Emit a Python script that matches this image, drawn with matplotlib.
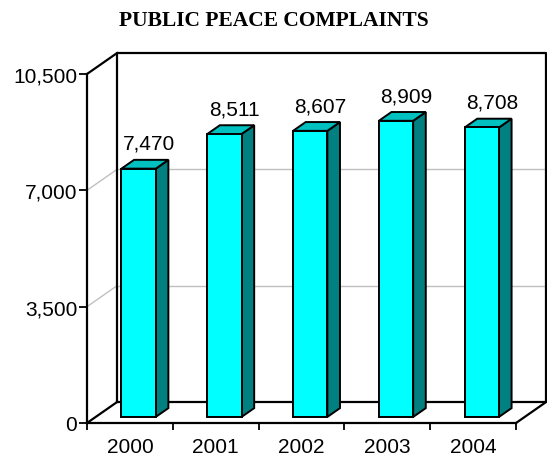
import matplotlib
matplotlib.use('Agg')
import matplotlib.pyplot as plt
from matplotlib.patches import Polygon

years = ['2000', '2001', '2002', '2003', '2004']
complaints = [7470, 8511, 8607, 8909, 8708]
y_ticks = [0, 3500, 7000, 10500]

# 3D look: depth of the floor in data units (x in categories, y in values)
DX, DY = 0.35, 630
F0, F1 = 0.29, 0.71   # bar front / back depth fraction
HALF_W = 0.2

plt.rcParams['font.family'] = ['Liberation Sans', 'DejaVu Sans']

fig = plt.figure(figsize=(5.47, 4.60), dpi=100)
ax = fig.add_axes([87 / 547, 36 / 460, 429 / 547, 349 / 460])
ax.set_xlim(-0.5, len(years) - 0.5)
ax.set_ylim(0, 10500)

x0, x1 = -0.5, len(years) - 0.5
ytop = 10500
k = dict(color='black', lw=1.6, clip_on=False, solid_capstyle='projecting')

# gridlines on back wall and left side wall
for v in y_ticks[1:-1]:
    ax.plot([x0 + DX, x1 + DX], [v + DY, v + DY], color='#c0c0c0', lw=1, clip_on=False, zorder=1)
    ax.plot([x0, x0 + DX], [v, v + DY], color='#c0c0c0', lw=1, clip_on=False, zorder=1)

# back wall box, side wall and floor
ax.plot([x0 + DX, x1 + DX, x1 + DX, x0 + DX, x0 + DX], [DY, DY, ytop + DY, ytop + DY, DY], zorder=2, **k)
ax.plot([x0, x0 + DX], [ytop, ytop + DY], zorder=2, **k)
ax.plot([x0, x0 + DX], [0, DY], zorder=2, **k)
ax.plot([x1, x1 + DX], [0, DY], zorder=2, **k)

# bars
dd_x, dd_y = (F1 - F0) * DX, (F1 - F0) * DY
b = F0 * DY
for i, v in enumerate(complaints):
    xa = i - HALF_W + F0 * DX
    xb = i + HALF_W + F0 * DX
    top = v + b
    front = [(xa, b), (xb, b), (xb, top), (xa, top)]
    side = [(xb, b), (xb + dd_x, b + dd_y), (xb + dd_x, top + dd_y), (xb, top)]
    lid = [(xa, top), (xb, top), (xb + dd_x, top + dd_y), (xa + dd_x, top + dd_y)]
    ax.add_patch(Polygon(side, closed=True, fc='#008080', ec='black', lw=1.4, zorder=3, clip_on=False))
    ax.add_patch(Polygon(lid, closed=True, fc='#00c0c0', ec='black', lw=1.4, zorder=3, clip_on=False))
    ax.add_patch(Polygon(front, closed=True, fc='#00ffff', ec='black', lw=1.4, zorder=4, clip_on=False))
    ax.text(i + 0.22, top + dd_y + 330, f'{v:,}', ha='center', va='baseline', fontsize=15, zorder=5)

# axes
for s in ['top', 'right']:
    ax.spines[s].set_visible(False)
for s in ['left', 'bottom']:
    ax.spines[s].set_linewidth(1.6)
    ax.spines[s].set_zorder(6)

ax.set_yticks(y_ticks)
ax.set_yticklabels([f'{v:,}' for v in y_ticks])
ax.tick_params(axis='y', length=6, width=1.3, pad=1.0, labelsize=15)
ax.set_xticks(range(len(years)))
ax.set_xticklabels(years)
ax.set_xticks([i - 0.5 for i in range(len(years) + 1)], minor=True)
ax.tick_params(axis='x', which='major', length=0, pad=10, labelsize=15)
ax.tick_params(axis='x', which='minor', length=5, width=1.3)

fig.text(0.5, 1 - 21 / 460, 'PUBLIC PEACE COMPLAINTS', ha='center', va='center',
         fontsize=15.5, fontweight='bold', family=['Liberation Serif', 'DejaVu Serif'])

fig.savefig('out.png', dpi=100)
